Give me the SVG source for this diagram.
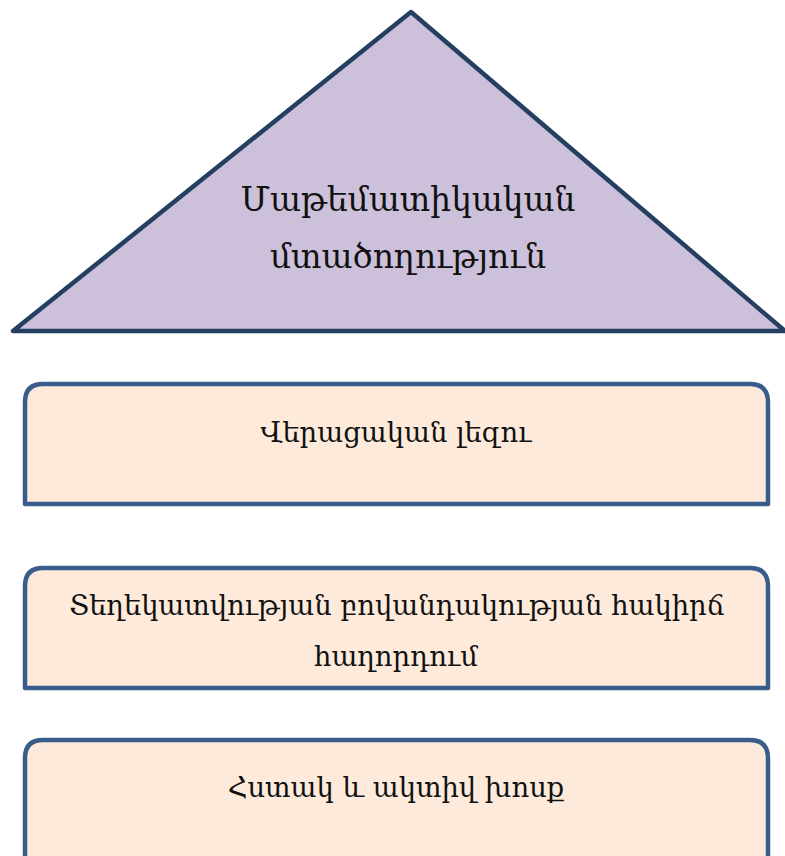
<svg xmlns="http://www.w3.org/2000/svg" width="785" height="856" viewBox="0 0 785 856">
<style>
.tri{fill:#CCC0DA;stroke:#243F60;stroke-width:4.5;stroke-linejoin:round}
.box{fill:#FDEADA;stroke:#385D8A;stroke-width:4.5;stroke-linejoin:round}
text{font-family:"DejaVu Serif","Liberation Serif",serif;fill:#111;text-anchor:middle}
.t1{font-size:32.8px}
.t2{font-size:27.4px}
</style>
<rect width="785" height="856" fill="#fff"/>
<g id="apex">
<polygon class="tri" points="13,331 411,12 785,331"/>
<text class="t1" x="408" y="211">Մաթեմատիկական</text>
<text class="t1" x="408" y="268">մտածողություն</text>
</g>
<g id="box1">
<path class="box" d="M25,504 V402 Q25,384 43,384 H750 Q768,384 768,402 V504 Z"/>
<text class="t2" x="396" y="442">Վերացական լեզու</text>
</g>
<g id="box2">
<path class="box" d="M25,688 V586 Q25,568 43,568 H750 Q768,568 768,586 V688 Z"/>
<text class="t2" x="397" y="615">Տեղեկատվության բովանդակության հակիրճ</text>
<text class="t2" x="396" y="666">հաղորդում</text>
</g>
<g id="box3">
<path class="box" d="M25,870 V758 Q25,740 43,740 H750 Q768,740 768,758 V870 Z"/>
<text class="t2" x="396" y="797">Հստակ և ակտիվ խոսք</text>
</g>
<g id="connectors"/>
</svg>
